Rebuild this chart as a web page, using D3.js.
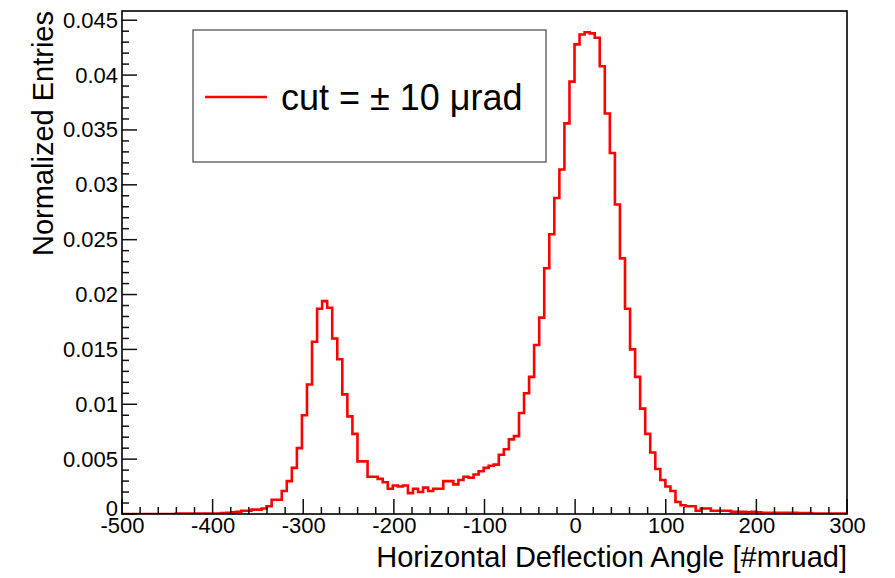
<!DOCTYPE html>
<html>
<head>
<meta charset="utf-8">
<script src="https://cdn.jsdelivr.net/npm/d3@7"></script>
<style>
  body { margin: 0; background: #fff; }
  svg { display: block; font-family: "Liberation Sans", Arial, Helvetica, sans-serif; }
</style>
</head>
<body>
<svg id="chart" width="895" height="578"></svg>
<script>
// histogram: fixed width bins, first low edge
const binStart = -496.4;
const binWidth = 5.57;
const entries = [
  0, 0, 0, 0, 0, 0, 0, 0, 0, 0,
  0.00003, 0.00003, 0.00003, 0.00003, 0.00003, 0.00003, 0.00003, 0.00003, 0.00005, 0.00008,
  0.0001, 0.00015, 0.0002, 0.0003, 0.0003, 0.0004, 0.0004, 0.0005, 0.0007, 0.0013,
  0.0013, 0.0021, 0.003, 0.0042, 0.006, 0.009, 0.0118, 0.0157, 0.0187, 0.0194,
  0.0188, 0.016, 0.0141, 0.0109, 0.0089, 0.0073, 0.0048, 0.0048, 0.0034, 0.0034,
  0.0032, 0.0029, 0.0023, 0.0026, 0.0025, 0.0026, 0.0019, 0.0023, 0.002, 0.0024,
  0.0021, 0.0023, 0.0023, 0.003, 0.003, 0.0027, 0.0031, 0.0034, 0.0033, 0.0036,
  0.0039, 0.0042, 0.0044, 0.0045, 0.0054, 0.0059, 0.0068, 0.0071, 0.0092, 0.011,
  0.0125, 0.0154, 0.0179, 0.0224, 0.0255, 0.0288, 0.0314, 0.0356, 0.0394, 0.0428,
  0.0437, 0.0439, 0.0438, 0.0434, 0.0408, 0.0365, 0.0329, 0.0282, 0.0233, 0.0187,
  0.015, 0.0125, 0.0096, 0.0073, 0.0056, 0.0041, 0.0031, 0.0025, 0.0021, 0.0011,
  0.0008, 0.0007, 0.0007, 0.0003, 0.0005, 0.0005, 0.0003, 0.0003, 0.0003, 0.0003,
  0.0002, 0.0002, 0.0002, 0.00015, 0.0002, 0.00015, 0.0001, 0.0001, 0.0001, 0.0001,
  0.0001, 0.0001, 0.0001, 0.00008, 0.00008, 0.00008, 0.00005, 0.00005, 0.00005, 0.00005,
  0.00005, 0.00005, 0.00005, 0.00005
];

const xTicks = [-500, -400, -300, -200, -100, 0, 100, 200, 300];
const yTicks = [0, 0.005, 0.01, 0.015, 0.02, 0.025, 0.03, 0.035, 0.04, 0.045];
const xTitle = 'Horizontal Deflection Angle [#mruad]';
const yTitle = 'Normalized Entries';
const legendLabel = 'cut = \u00B1 10 \u03BCrad';

const frame = { left: 122, right: 847, top: 11, bottom: 514 };

const svg = d3.select('#chart');

const x = d3.scaleLinear().domain([-500, 300]).range([frame.left, frame.right]);
const y = d3.scaleLinear().domain([0, 0.04584]).range([frame.bottom, frame.top]);

// minor tick positions (x every 20, y every 0.001)
const xMinor = d3.range(-500, 301, 20).filter((v) => v % 100 !== 0);
const yMinor = d3.range(0, 46).filter((i) => i % 5 !== 0).map((i) => +(i * 0.001).toFixed(3));

svg.append('defs').append('clipPath').attr('id', 'clip')
    .append('rect')
    .attr('x', frame.left).attr('y', frame.top)
    .attr('width', frame.right - frame.left).attr('height', frame.bottom - frame.top);

// histogram outline
const pts = entries.map((v, i) => [binStart + i * binWidth, v]);
pts.unshift([-500, entries[0]]);
pts.push([binStart + entries.length * binWidth, entries[entries.length - 1]]);

const line = d3.line()
    .x((d) => x(d[0]))
    .y((d) => y(d[1]))
    .curve(d3.curveStepAfter);

svg.append('path')
    .datum(pts)
    .attr('clip-path', 'url(#clip)')
    .attr('d', line)
    .attr('fill', 'none')
    .attr('stroke', '#ff0000')
    .attr('stroke-width', 2.6);

// tick labels from d3 axes, tick marks drawn inside the frame
const gx = svg.append('g').attr('transform', `translate(0,${frame.bottom})`);
gx.call(d3.axisBottom(x).tickValues(xTicks).tickSize(0).tickPadding(3).tickFormat((d) => d));

const gy = svg.append('g').attr('transform', `translate(${frame.left},0)`);
gy.call(d3.axisLeft(y).tickValues(yTicks).tickSize(0).tickPadding(4)
    .tickFormat((d) => (d === 0 ? '0' : String(+d.toFixed(3)))));

svg.selectAll('.domain').remove();
svg.selectAll('.tick line').remove();
svg.selectAll('.tick text').attr('font-size', 22).attr('fill', '#000');
gx.selectAll('.tick text').attr('dy', '0.71em');
gy.selectAll('.tick text').filter((d) => d === 0).attr('dy', '0.05em');

const ticks = svg.append('g').attr('stroke', '#111').attr('stroke-width', 1.5);
ticks.selectAll('.xt')
    .data(xTicks.map((v) => [v, 15]).concat(xMinor.map((v) => [v, 7])))
    .join('line')
    .attr('x1', (d) => x(d[0])).attr('x2', (d) => x(d[0]))
    .attr('y1', frame.bottom).attr('y2', (d) => frame.bottom - d[1]);
ticks.selectAll('.yt')
    .data(yTicks.map((v) => [v, 15]).concat(yMinor.map((v) => [v, 7])))
    .join('line')
    .attr('y1', (d) => y(d[0])).attr('y2', (d) => y(d[0]))
    .attr('x1', frame.left).attr('x2', (d) => frame.left + d[1]);

// frame box
svg.append('rect')
    .attr('x', frame.left).attr('y', frame.top)
    .attr('width', frame.right - frame.left).attr('height', frame.bottom - frame.top)
    .attr('fill', 'none').attr('stroke', '#000').attr('stroke-width', 1.6);

// axis titles
svg.append('text')
    .attr('x', frame.right).attr('y', 567)
    .attr('text-anchor', 'end')
    .attr('font-size', 29)
    .text(xTitle);

svg.append('text')
    .attr('transform', `translate(53,${frame.top}) rotate(-90)`)
    .attr('text-anchor', 'end')
    .attr('font-size', 29)
    .text(yTitle);

// legend
const lg = svg.append('g');
lg.append('rect')
    .attr('x', 193).attr('y', 30).attr('width', 353).attr('height', 132)
    .attr('fill', '#fff').attr('stroke', '#444').attr('stroke-width', 1.2);
lg.append('line')
    .attr('x1', 205).attr('x2', 267).attr('y1', 97).attr('y2', 97)
    .attr('stroke', '#ff0000').attr('stroke-width', 2.6);
lg.append('text')
    .attr('x', 281).attr('y', 110)
    .attr('font-size', 36)
    .text(legendLabel);
</script>
</body>
</html>
